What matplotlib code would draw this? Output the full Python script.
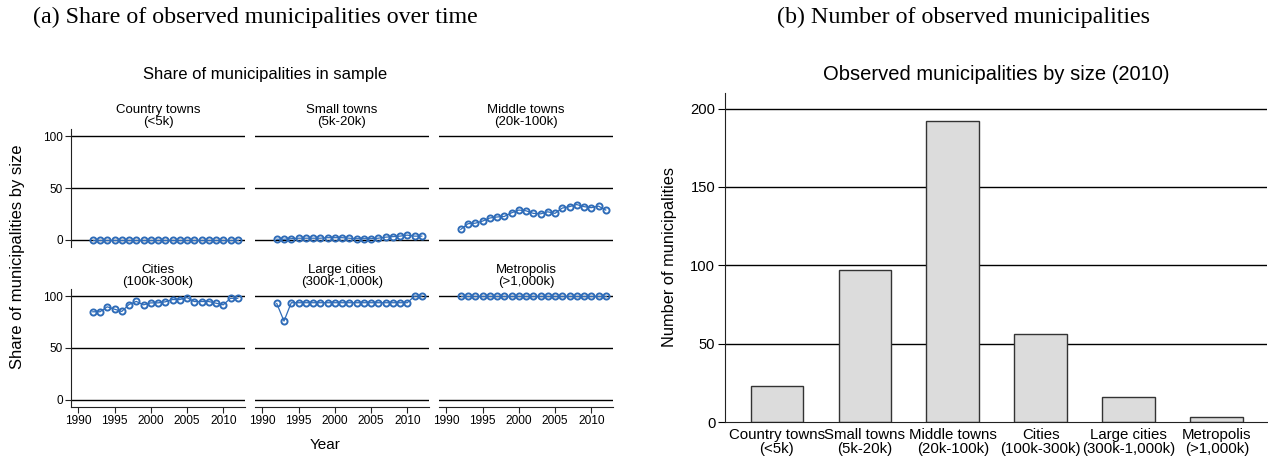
import matplotlib
matplotlib.use("Agg")
import matplotlib.pyplot as plt
import numpy as np

# ---------------- data ----------------
years = list(range(1992, 2013))

panel_titles = ["Country towns\n(<5k)", "Small towns\n(5k-20k)", "Middle towns\n(20k-100k)",
                "Cities\n(100k-300k)", "Large cities\n(300k-1,000k)", "Metropolis\n(>1,000k)"]

share_country = [0, 0, 0, 0, 0, 0, 0, 0, 0, 0, 0, 0, 0, 0, 0, 0, 0, 0, 0, 0, 0]
share_small = [0.5, 0.5, 1, 1.5, 1.5, 1.5, 1.5, 2, 2, 2, 1.5, 1, 1, 1, 1.5, 2.5, 3, 3.5, 4.5, 3.5, 3.5]
share_middle = [10, 15.5, 16, 18, 21, 22, 22.5, 26, 28.7, 28, 25.5, 25, 27, 25.5, 30.6, 32, 34, 32, 31, 32.5, 28.7]
share_cities = [85, 85, 89.8, 87.5, 85.3, 92, 95, 91.7, 93.6, 93.6, 94.6, 96.8, 96.8, 98.7, 94.9, 94.9, 94.9, 93.3, 91.7, 98, 98]
share_large = [93, 76, 93.75, 93.75, 93.75, 93.75, 93.75, 93.75, 93.75, 93.75, 93.75, 93.75, 93.75, 93.75, 93.75, 93.75, 93.75, 93.75, 93.75, 100, 100]
share_metro = [100] * 21

bar_labels = ["Country towns\n(<5k)", "Small towns\n(5k-20k)", "Middle towns\n(20k-100k)",
              "Cities\n(100k-300k)", "Large cities\n(300k-1,000k)", "Metropolis\n(>1,000k)"]
bar_counts = [23, 97, 192, 56, 16, 3]

series = [share_country, share_small, share_middle, share_cities, share_large, share_metro]

# ---------------- figure ----------------
W, H = 1268, 457
fig = plt.figure(figsize=(W / 100, H / 100), dpi=100)
plt.rcParams['font.family'] = ['Liberation Sans', 'DejaVu Sans']

blue = '#2f6cb8'

col_left = [71, 255, 439]
col_w = 174
row_top = [129, 289]
row_h = 118

def fx(px):
    return px / W

def fy(py):
    return 1 - py / H

for i, (vals, title) in enumerate(zip(series, panel_titles)):
    r, c = divmod(i, 3)
    ax = fig.add_axes([fx(col_left[c]), fy(row_top[r] + row_h), fx(col_w), row_h / H])
    ax.set_xlim(1989, 2013)
    ax.set_ylim(-7, 107)
    for gy in (0, 50, 100):
        ax.axhline(gy, color='black', lw=1.0, zorder=1)
    ax.plot(years, vals, color=blue, lw=0.9, marker='o', markersize=4.4,
            markerfacecolor='none', markeredgecolor=blue, markeredgewidth=1.4, zorder=3)
    ax.set_title(title, fontsize=9.5, pad=3, linespacing=1.0)
    for s in ('top', 'right'):
        ax.spines[s].set_visible(False)
    ax.set_yticks([0, 50, 100])
    ax.set_xticks([1990, 1995, 2000, 2005, 2010])
    if c == 0:
        ax.spines['left'].set_color('#222222')
        ax.tick_params(axis='y', length=4, width=0.8, labelsize=8.5, pad=2, colors='#222222')
        ax.tick_params(axis='y', labelcolor='black')
    else:
        ax.spines['left'].set_visible(False)
        ax.tick_params(axis='y', length=0, labelleft=False)
    if r == 1:
        ax.spines['bottom'].set_color('#222222')
        ax.tick_params(axis='x', length=4, width=0.8, labelsize=8.6, pad=2, colors='#222222')
        ax.tick_params(axis='x', labelcolor='black')
    else:
        ax.spines['bottom'].set_visible(False)
        ax.tick_params(axis='x', length=0, labelbottom=False)

fig.text(fx(265), fy(75), "Share of municipalities in sample", ha='center', va='center', fontsize=12)
fig.text(fx(17.5), fy(257), "Share of municipalities by size", ha='center', va='center',
         rotation=90, fontsize=12)
fig.text(fx(325), fy(445), "Year", ha='center', va='center', fontsize=11)

# ---------------- bar chart ----------------
axb = fig.add_axes([fx(725), fy(422), fx(542), 329 / H])
x = np.arange(len(bar_counts))
axb.set_axisbelow(True)
for gy in (50, 100, 150, 200):
    axb.axhline(gy, color='black', lw=1.0, zorder=0)
axb.bar(x, bar_counts, width=0.6, color='#dcdcdc', edgecolor='#333333', linewidth=1.0, zorder=2)
axb.set_xlim(-0.59, 5.57)
axb.set_ylim(0, 210)
axb.set_yticks([0, 50, 100, 150, 200])
axb.set_xticks(x)
axb.set_xticklabels(bar_labels, linespacing=1.0)
axb.tick_params(axis='x', length=0, labelsize=10.8, pad=4)
axb.tick_params(axis='y', length=5, width=0.8, labelsize=10.6, pad=2)
for s in ('top', 'right'):
    axb.spines[s].set_visible(False)
axb.spines['left'].set_color('#222222')
axb.spines['bottom'].set_color('#222222')
axb.set_title("Observed municipalities by size (2010)", fontsize=14.5, pad=9)
fig.text(fx(669), fy(257), "Number of municipalities", ha='center', va='center',
         rotation=90, fontsize=11.8)

# ---------------- panel captions ----------------
fig.text(fx(255), fy(17), "(a) Share of observed municipalities over time", ha='center', va='center',
         fontsize=17.3, family='Liberation Serif')
fig.text(fx(963), fy(17), "(b) Number of observed municipalities", ha='center', va='center',
         fontsize=17.3, family='Liberation Serif')

fig.savefig("out.png", dpi=100)
